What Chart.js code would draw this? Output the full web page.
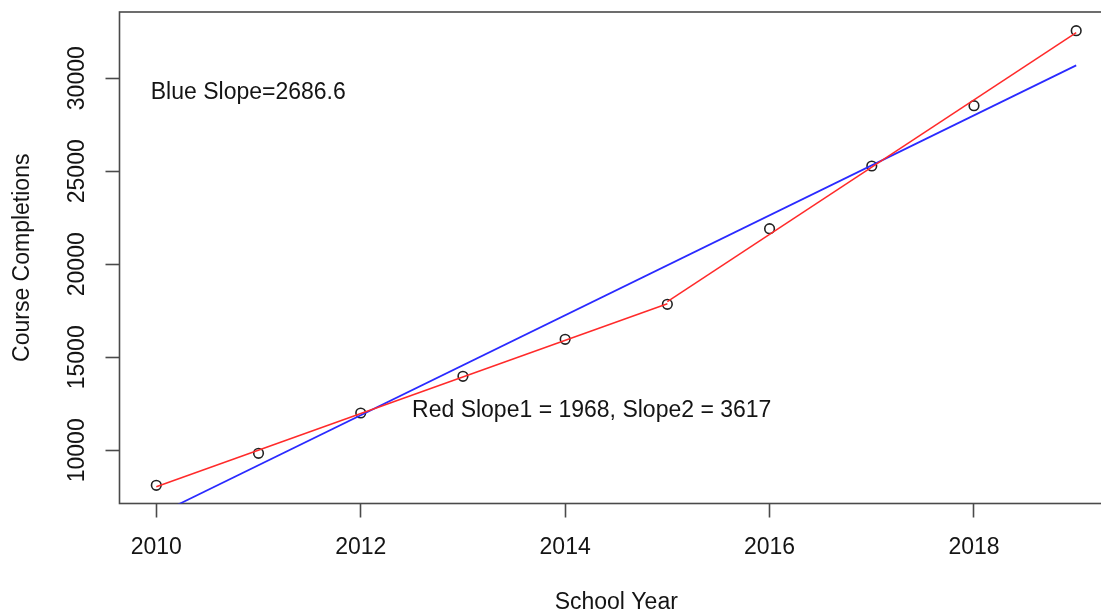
<!DOCTYPE html>
<html>
<head>
<meta charset="utf-8">
<title>Course Completions by School Year</title>
<script src="https://cdn.jsdelivr.net/npm/chart.js@4.4.1/dist/chart.umd.min.js"></script>
<style>
  html, body { margin: 0; padding: 0; background: #ffffff; overflow: hidden; width: 1101px; height: 610px; }
  #wrap { position: relative; width: 1140px; height: 610px; }
</style>
</head>
<body>
<div id="wrap"><canvas id="chart"></canvas></div>
<script>
// Course completions per school year
const years = [2010, 2011, 2012, 2013, 2014, 2015, 2016, 2017, 2018, 2019];
const completions = [8118, 9838, 12005, 13977, 15966, 17847, 21911, 25281, 28522, 32554];

// Slopes of the fitted lines (completions per year)
const blueSlope = 2686.6;
const redSlope1 = 1968;
const redSlope2 = 3617;
const redBreakYear = 2015;

// Axis ticks
const xTicks = [2010, 2012, 2014, 2016, 2018];
const yTicks = [10000, 15000, 20000, 25000, 30000];

// Annotation text
const blueLabel = 'Blue Slope=2686.6';
const redLabel = 'Red Slope1 = 1968, Slope2 = 3617';
const xTitle = 'School Year';
const yTitle = 'Course Completions';

const FONT = '"Liberation Sans", Arial, Helvetica, sans-serif';
const TEXT = '#141414';
const AXIS = '#4a4a4a';

// Least-squares line with a given slope through the mean of the selected points
function fittedLine(lo, hi, slope) {
  const xs = [], ys = [];
  years.forEach((yr, i) => { if (yr >= lo && yr <= hi) { xs.push(yr); ys.push(completions[i]); } });
  const mx = xs.reduce((a, b) => a + b, 0) / xs.length;
  const my = ys.reduce((a, b) => a + b, 0) / ys.length;
  return [lo, hi].map(x => ({ x, y: my + slope * (x - mx) }));
}

const pointData = years.map((yr, i) => ({ x: yr, y: completions[i] }));
const blueLine = fittedLine(years[0], years[years.length - 1], blueSlope);
const redLine1 = fittedLine(years[0], redBreakYear, redSlope1);
const redLine2 = fittedLine(redBreakYear, years[years.length - 1], redSlope2);

const frameAndText = {
  id: 'frameAndText',
  beforeDatasetsDraw(chart) {
    const { ctx, chartArea: a } = chart;
    ctx.save();
    ctx.strokeStyle = AXIS;
    ctx.lineWidth = 1.6;
    ctx.strokeRect(a.left, a.top, a.right - a.left, a.bottom - a.top);
    ctx.restore();
  },
  afterDraw(chart) {
    const { ctx, chartArea: a } = chart;
    const xs = chart.scales.x, ys = chart.scales.y;
    ctx.save();
    ctx.fillStyle = TEXT;
    ctx.font = '23px ' + FONT;

    // vertical tick labels on the y axis
    ctx.textAlign = 'center';
    ctx.textBaseline = 'alphabetic';
    yTicks.forEach(v => {
      ctx.save();
      ctx.translate(84, ys.getPixelForValue(v));
      ctx.rotate(-Math.PI / 2);
      ctx.fillText(String(v), 0, 0);
      ctx.restore();
    });

    // y title
    ctx.save();
    ctx.translate(29, (a.top + a.bottom) / 2);
    ctx.rotate(-Math.PI / 2);
    ctx.fillText(yTitle, 0, 0);
    ctx.restore();

    // x title
    ctx.fillText(xTitle, (a.left + a.right) / 2, 609);

    // slope annotations in data coordinates
    ctx.textBaseline = 'middle';
    ctx.fillText(blueLabel, xs.getPixelForValue(2010.9), ys.getPixelForValue(29200));
    ctx.fillText(redLabel, xs.getPixelForValue(2014.26), ys.getPixelForValue(12110));
    ctx.restore();
  }
};

new Chart(document.getElementById('chart'), {
  type: 'scatter',
  data: {
    datasets: [
      {
        label: 'Completions',
        data: pointData,
        showLine: false,
        pointStyle: 'circle',
        pointRadius: 4.8,
        pointHoverRadius: 4.8,
        pointBorderWidth: 1.6,
        pointBorderColor: '#222222',
        pointBackgroundColor: 'rgba(0,0,0,0)',
        order: 3
      },
      {
        label: 'Blue fit',
        data: blueLine,
        showLine: true,
        borderColor: '#2a2aff',
        borderWidth: 1.7,
        pointRadius: 0,
        order: 2
      },
      {
        label: 'Red fit 1',
        data: redLine1,
        showLine: true,
        borderColor: '#ff2a2a',
        borderWidth: 1.5,
        pointRadius: 0,
        order: 1
      },
      {
        label: 'Red fit 2',
        data: redLine2,
        showLine: true,
        borderColor: '#ff2a2a',
        borderWidth: 1.5,
        pointRadius: 0,
        order: 1
      }
    ]
  },
  options: {
    responsive: true,
    maintainAspectRatio: false,
    animation: false,
    events: [],
    layout: { padding: { top: 12, right: 27, left: 0, bottom: 0 } },
    plugins: {
      legend: { display: false },
      tooltip: { enabled: false },
      title: { display: false }
    },
    scales: {
      x: {
        type: 'linear',
        min: 2009.64,
        max: 2019.36,
        afterFit(scale) { scale.height = 106.5; },
        afterBuildTicks(scale) { scale.ticks = xTicks.map(v => ({ value: v })); },
        border: { display: false },
        grid: {
          drawOnChartArea: false,
          drawTicks: true,
          tickLength: 14,
          tickWidth: 1.6,
          tickColor: AXIS
        },
        ticks: {
          autoSkip: false,
          maxRotation: 0,
          minRotation: 0,
          padding: 16,
          color: TEXT,
          font: { family: FONT, size: 23 },
          callback: v => String(v)
        }
      },
      y: {
        type: 'linear',
        min: 7140,
        max: 33560,
        afterFit(scale) { scale.width = 119.5; },
        afterBuildTicks(scale) { scale.ticks = yTicks.map(v => ({ value: v })); },
        border: { display: false },
        grid: {
          drawOnChartArea: false,
          drawTicks: true,
          tickLength: 14,
          tickWidth: 1.6,
          tickColor: AXIS
        },
        ticks: { display: false }
      }
    }
  },
  plugins: [frameAndText]
});
</script>
</body>
</html>
